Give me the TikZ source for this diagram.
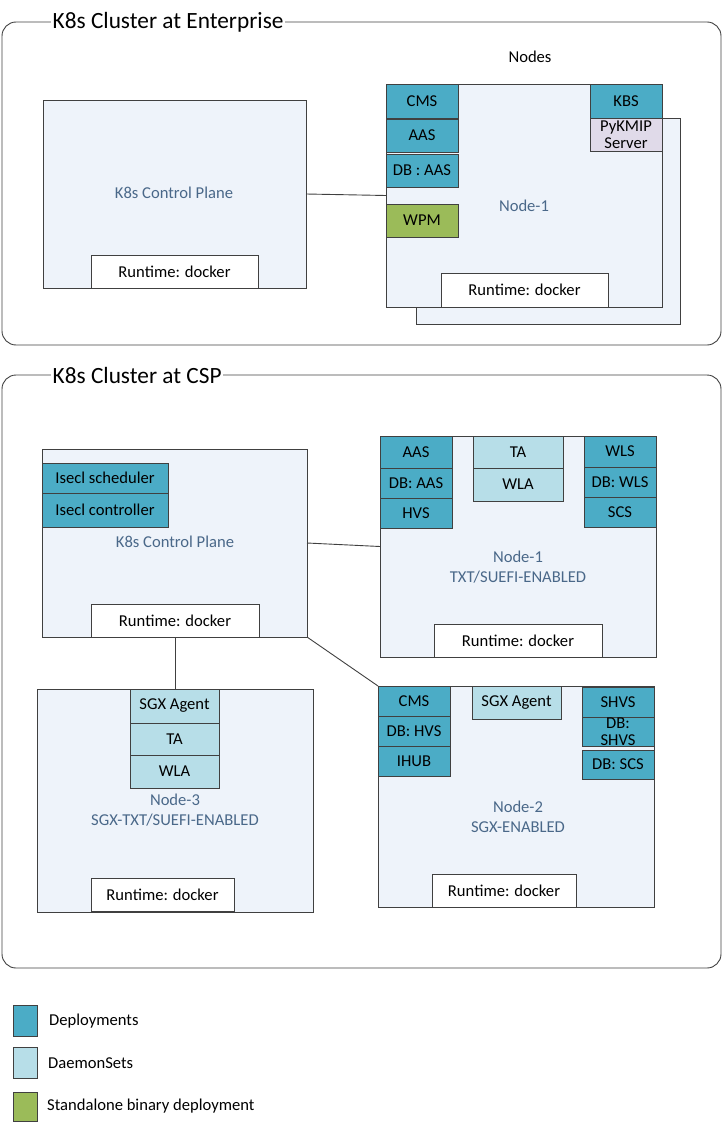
\documentclass[tikz,border=0pt]{standalone}
\usepackage{fontspec}
\setmainfont{Carlito}
\definecolor{dep}{HTML}{4BACC6}
\definecolor{dsc}{HTML}{B7DEE8}
\definecolor{sab}{HTML}{9BBB59}
\definecolor{nodefill}{HTML}{EEF3FA}
\definecolor{nodetxt}{HTML}{4A6889}
\definecolor{kmip}{HTML}{E0DAE9}
\definecolor{edge}{HTML}{404040}
\newcommand\bx[7]{\node[#6, minimum width={(#4)-(#2)}, minimum height={(#5)-(#3)}] (#1) at ({((#2)+(#4))/2},{((#3)+(#5))/2}) {#7};}
\tikzset{
  base/.style={inner sep=0pt, outer sep=0pt, line width=0.9pt, draw=edge, align=center, font=\fontsize{16.6}{16.6}\selectfont},
  frame/.style={base, rounded corners=14pt, fill=none},
  hostbox/.style={base, fill=nodefill},
  rtbox/.style={base, fill=white},
  depbox/.style={base, fill=dep},
  dsbox/.style={base, fill=dsc},
  sabox/.style={base, fill=sab},
  kmipbox/.style={base, fill=kmip},
  hosttext/.style={inner sep=0pt, text=nodetxt, align=center, font=\fontsize{16.6}{20}\selectfont},
  title/.style={inner xsep=1.5pt, inner ysep=0pt, fill=white, anchor=west, font=\fontsize{23.3}{23.3}\selectfont},
  plain/.style={inner sep=0pt, anchor=west, font=\fontsize{16.6}{16.6}\selectfont},
  conn/.style={line width=0.9pt, draw=edge}
}
\begin{document}
\begin{tikzpicture}[x=1pt,y=-1pt]
\useasboundingbox (0,0) rectangle (723,1126);
% ---------------- Enterprise ----------------
\bx{fE}{2}{22}{721}{345}{frame}{}
\node[title] (tE) at (51,22) {K8s Cluster at Enterprise};
\bx{cpE}{43}{100}{306}{288}{hostbox}{}
\node[hosttext] (cpEt) at (174,193) {K8s Control Plane};
\bx{rtE1}{91}{255}{258}{288}{rtbox}{Runtime: docker}
\node[plain, anchor=center] (nodesl) at (530,57) {Nodes};
\bx{n1Eback}{416}{118}{680}{324}{hostbox}{}
\bx{n1E}{386}{84}{662}{307}{hostbox}{}
\node[hosttext] (n1Et) at (524,206) {Node-1};
\bx{cmsE}{386}{84}{458}{118}{depbox}{CMS}
\bx{aasE}{386}{119}{458}{152}{depbox}{AAS}
\bx{dbaasE}{386}{154}{458}{187}{depbox}{DB : AAS}
\bx{wpmE}{386}{204}{458}{237}{sabox}{WPM}
\bx{kbsE}{590}{84}{662}{118}{depbox}{KBS}
\bx{kmipE}{590}{118}{662}{151}{kmipbox}{\fontsize{16.6}{15}\selectfont PyKMIP\\Server}
\bx{rtE2}{441}{273}{608}{307}{rtbox}{Runtime: docker}
\draw[conn] (cpE.east) -- (n1E.west);
% ---------------- CSP ----------------
\bx{fC}{2}{375}{721}{968}{frame}{}
\node[title] (tC) at (51,375) {K8s Cluster at CSP};
\bx{cpC}{42}{449}{307}{637}{hostbox}{}
\bx{n1C}{380}{436}{656}{657}{hostbox}{}
\bx{n2C}{378}{686}{654}{907}{hostbox}{}
\bx{n3C}{37}{689}{313}{912}{hostbox}{}
\draw[conn] (cpC.east) -- (n1C.west);
\draw[conn] (cpC.south east) -- (n2C.north west);
\bx{schC}{42}{463}{168}{493}{depbox}{Isecl scheduler}
\bx{ctlC}{42}{493}{168}{527}{depbox}{Isecl controller}
\node[hosttext] (cpCt) at (175,542) {K8s Control Plane};
\bx{rtC0}{91}{604}{259}{637}{rtbox}{Runtime: docker}
\draw[conn] (rtC0.south) -- (n3C.north);
% Node-1 CSP
\bx{aasC}{380}{436}{452}{468}{depbox}{AAS}
\bx{dbaasC}{380}{468}{452}{498}{depbox}{DB: AAS}
\bx{hvsC}{380}{498}{452}{528}{depbox}{HVS}
\bx{taC1}{473}{436}{563}{468}{dsbox}{TA}
\bx{wlaC1}{473}{468}{563}{501}{dsbox}{WLA}
\bx{wlsC}{584}{436}{656}{467}{depbox}{WLS}
\bx{dbwlsC}{584}{467}{656}{497}{depbox}{DB: WLS}
\bx{scsC}{584}{497}{656}{527}{depbox}{SCS}
\node[hosttext] (n1Ct) at (518,567) {Node-1\\TXT/SUEFI-ENABLED};
\bx{rtC1}{434}{624}{602}{657}{rtbox}{Runtime: docker}
% Node-2 CSP
\bx{cmsC}{378}{686}{450}{716}{depbox}{CMS}
\bx{dbhvsC}{378}{716}{450}{746}{depbox}{DB: HVS}
\bx{ihubC}{378}{746}{450}{776}{depbox}{IHUB}
\bx{sgxC2}{472}{686}{561}{719}{dsbox}{SGX Agent}
\bx{shvsC}{582}{687}{654}{717}{depbox}{SHVS}
\bx{dbshvsC}{582}{717}{654}{746}{depbox}{\fontsize{16.6}{18}\selectfont DB:\\SHVS}
\bx{dbscsC}{582}{750}{654}{779}{depbox}{DB: SCS}
\node[hosttext] (n2Ct) at (518,817) {Node-2\\SGX-ENABLED};
\bx{rtC2}{432}{874}{576}{907}{rtbox}{Runtime: docker}
% Node-3 CSP
\bx{sgxC3}{130}{689}{219}{723}{dsbox}{SGX Agent}
\bx{taC3}{130}{723}{219}{755}{dsbox}{TA}
\bx{wlaC3}{130}{755}{219}{788}{dsbox}{WLA}
\node[hosttext] (n3Ct) at (175,810) {Node-3\\SGX-TXT/SUEFI-ENABLED};
\bx{rtC3}{91}{878}{234}{911}{rtbox}{Runtime: docker}
% ---------------- Legend ----------------
\bx{lg1}{13}{1005}{37}{1036}{depbox}{}
\node[plain] (lg1t) at (49,1021) {Deployments};
\bx{lg2}{13}{1047}{37}{1078}{dsbox}{}
\node[plain] (lg2t) at (48,1063) {DaemonSets};
\bx{lg3}{13}{1092}{37}{1121}{sabox}{}
\node[plain] (lg3t) at (47,1106) {Standalone binary deployment};
\end{tikzpicture}
\end{document}
